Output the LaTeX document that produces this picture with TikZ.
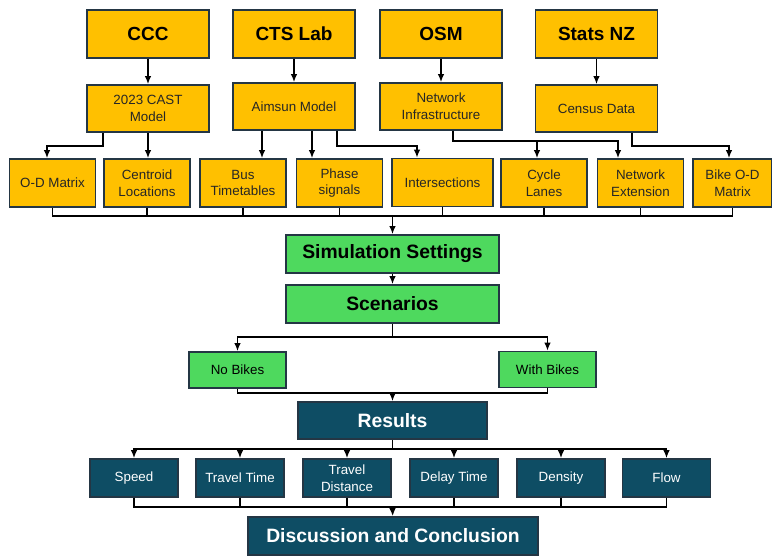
\documentclass[tikz,border=0pt]{standalone}
\usepackage{fontspec}
\setmainfont{Liberation Sans}
\definecolor{gold1}{RGB}{255,192,0}
\definecolor{green1}{RGB}{78,217,94}
\definecolor{teal1}{RGB}{14,77,100}
\definecolor{edge1}{RGB}{36,54,68}
\usetikzlibrary{arrows.meta, calc}

\begin{document}
\begin{tikzpicture}[
  box/.style={draw=edge1, fill=#1, line width=1pt, align=center, inner sep=2pt},
  src/.style={box=gold1, minimum width=2.44cm, minimum height=0.96cm, font=\fontsize{10.8}{12}\selectfont\bfseries},
  model/.style={box=gold1, minimum width=2.44cm, minimum height=0.94cm, text=black!85, font=\fontsize{7.6}{9.5}\selectfont},
  item/.style={box=gold1, minimum width=1.72cm, minimum height=0.96cm, text=black!85, font=\fontsize{7.6}{9.5}\selectfont},
  stage/.style={box=green1, minimum width=4.26cm, minimum height=0.76cm, font=\fontsize{11}{12}\selectfont\bfseries},
  case/.style={box=green1, minimum width=1.94cm, minimum height=0.72cm, font=\fontsize{7.6}{9.5}\selectfont},
  resbox/.style={box=teal1, text=white, minimum height=0.76cm, font=\fontsize{11}{13}\selectfont\bfseries},
  metric/.style={box=teal1, text=white, minimum width=1.76cm, minimum height=0.76cm, font=\fontsize{7.6}{9.5}\selectfont},
  link/.style={draw=black, line width=0.8pt},
  arr/.style={link, -{Latex[length=1.6mm, width=1.3mm]}},
]
  \useasboundingbox (0,0) rectangle (15.44,-11.1);

  \node[src] (ccc) at (2.96,-0.68) {CCC};
  \node[src] (cts) at (5.88,-0.68) {CTS Lab};
  \node[src] (osm) at (8.82,-0.68) {OSM};
  \node[src] (stats) at (11.93,-0.68) {Stats NZ};

  \node[model] (cast) at (2.96,-2.17) {2023 CAST\\Model};
  \node[model] (aimsun) at (5.88,-2.13) {Aimsun Model};
  \node[model] (netinf) at (8.82,-2.13) {Network\\Infrastructure};
  \node[model] (census) at (11.93,-2.17) {Census Data};

  \node[item] (od) at (1.05,-3.66) {O-D Matrix};
  \node[item] (cent) at (2.94,-3.66) {Centroid\\Locations};
  \node[item] (bus) at (4.86,-3.66) {Bus\\Timetables};
  \node[item] (phase) at (6.79,-3.66) {Phase\\signals};
  \node[item, minimum width=2.02cm] (inter) at (8.85,-3.65) {Intersections};
  \node[item] (cycle) at (10.88,-3.66) {Cycle\\Lanes};
  \node[item] (netext) at (12.81,-3.66) {Network\\Extension};
  \node[item, minimum width=1.58cm] (bike) at (14.65,-3.66) {Bike O-D\\Matrix};

  \node[stage] (simset) at (7.85,-5.08) {Simulation Settings};
  \node[stage] (scen) at (7.85,-6.08) {Scenarios};
  \node[case] (nobikes) at (4.75,-7.40) {No Bikes};
  \node[case] (withbikes) at (10.95,-7.39) {With Bikes};

  \node[resbox, minimum width=3.78cm, minimum height=0.74cm] (results) at (7.85,-8.41) {Results};
  \node[metric] (speed) at (2.68,-9.56) {Speed};
  \node[metric] (ttime) at (4.80,-9.56) {Travel Time};
  \node[metric] (tdist) at (6.94,-9.56) {Travel\\Distance};
  \node[metric] (delay) at (9.08,-9.56) {Delay Time};
  \node[metric] (density) at (11.22,-9.56) {Density};
  \node[metric] (flow) at (13.33,-9.56) {Flow};
  \node[resbox, minimum width=5.8cm] (disc) at (7.86,-10.72) {Discussion and Conclusion};

  \draw[arr] (ccc) -- (cast);
  \draw[arr] (cts) -- (aimsun);
  \draw[arr] (osm) -- (netinf);
  \draw[arr] (stats) -- (census);

  \draw[arr] ([xshift=-0.9cm]cast.south) -- ++(0,-0.26) -| ([xshift=-0.11cm]od.north);
  \draw[arr] (cast.south) -- (cast.south |- cent.north);
  \draw[arr] ([xshift=-0.64cm]aimsun.south) -- ([xshift=-0.64cm]aimsun.south |- bus.north);
  \draw[arr] ([xshift=0.36cm]aimsun.south) -- ([xshift=0.36cm]aimsun.south |- phase.north);
  \draw[arr] ([xshift=0.86cm]aimsun.south) -- ++(0,-0.3) -| ([xshift=-0.51cm]inter.north);
  \draw[arr] ([xshift=0.24cm]netinf.south) -- ++(0,-0.2) -| ([xshift=-0.14cm]cycle.north);
  \draw[arr] ([xshift=0.24cm]netinf.south) -- ++(0,-0.2) -| ([xshift=-0.45cm]netext.north);
  \draw[arr] ([xshift=0.71cm]census.south) -- ++(0,-0.26) -| ([xshift=-0.07cm]bike.north);

  \coordinate (collect) at (7.85,-4.32);
  \draw[link] (od) |- (collect) -| (bike);
  \foreach \n in {cent,bus,phase,inter,cycle,netext}
    \draw[link] (\n) -- (\n |- collect);
  \draw[arr] (collect) -- (simset);
  \draw[arr] (simset) -- (scen);

  \coordinate (split) at (7.85,-6.74);
  \draw[link] (scen) -- (split);
  \draw[arr] (split) -| (nobikes);
  \draw[arr] (split) -| (withbikes);
  \coordinate (merge) at (7.85,-7.86);
  \draw[link] (nobikes) |- (merge) -| (withbikes);
  \draw[arr] (merge) -- (results);

  \coordinate (rsplit) at (7.85,-8.98);
  \draw[link] (results) -- (rsplit);
  \foreach \m in {speed,ttime,tdist,delay,density,flow}
    \draw[arr] (rsplit) -| (\m);
  \coordinate (rmerge) at (7.85,-10.14);
  \foreach \m in {speed,ttime,tdist,delay,density,flow}
    \draw[link] (\m) |- (rmerge);
  \draw[arr] (rmerge) -- (disc);
\end{tikzpicture}
\end{document}
